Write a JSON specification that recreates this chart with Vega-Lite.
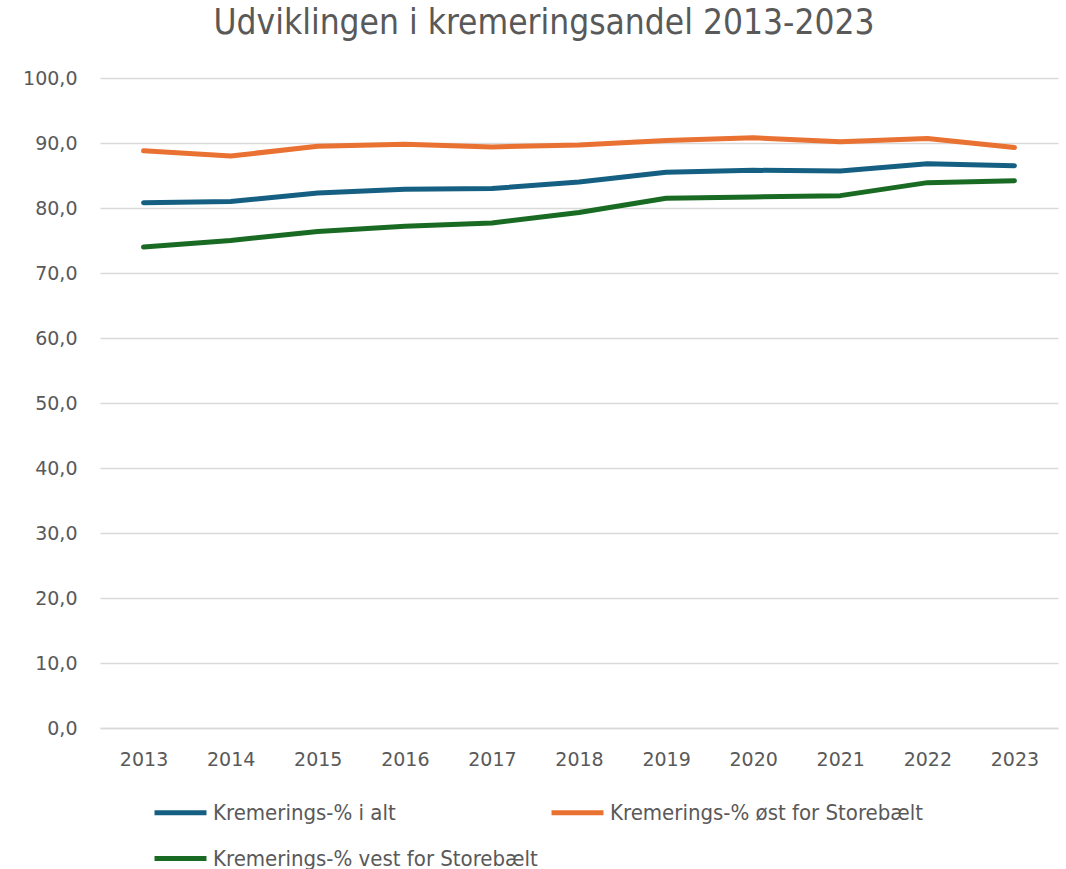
{
  "$schema": "https://vega.github.io/schema/vega-lite/v6.json",
  "width": 958,
  "height": 650,
  "autosize": {"type": "none"},
  "padding": {"left": 100, "top": 78, "right": 8, "bottom": 141},
  "background": "white",
  "title": {
    "text": "Udviklingen i kremeringsandel 2013-2023",
    "font": "DejaVu Sans Condensed, Liberation Sans",
    "fontSize": 35,
    "fontWeight": "normal",
    "color": "#595959",
    "anchor": "middle",
    "dx": -35,
    "offset": 28
  },
  "data": {
    "values": [
      {"year": "2013", "serie": "Kremerings-% i alt", "value": 80.8},
      {"year": "2014", "serie": "Kremerings-% i alt", "value": 81.0},
      {"year": "2015", "serie": "Kremerings-% i alt", "value": 82.3},
      {"year": "2016", "serie": "Kremerings-% i alt", "value": 82.9},
      {"year": "2017", "serie": "Kremerings-% i alt", "value": 83.0},
      {"year": "2018", "serie": "Kremerings-% i alt", "value": 84.0},
      {"year": "2019", "serie": "Kremerings-% i alt", "value": 85.5},
      {"year": "2020", "serie": "Kremerings-% i alt", "value": 85.8},
      {"year": "2021", "serie": "Kremerings-% i alt", "value": 85.7},
      {"year": "2022", "serie": "Kremerings-% i alt", "value": 86.8},
      {"year": "2023", "serie": "Kremerings-% i alt", "value": 86.5},
      {"year": "2013", "serie": "Kremerings-% øst for Storebælt", "value": 88.8},
      {"year": "2014", "serie": "Kremerings-% øst for Storebælt", "value": 88.0},
      {"year": "2015", "serie": "Kremerings-% øst for Storebælt", "value": 89.5},
      {"year": "2016", "serie": "Kremerings-% øst for Storebælt", "value": 89.8},
      {"year": "2017", "serie": "Kremerings-% øst for Storebælt", "value": 89.4},
      {"year": "2018", "serie": "Kremerings-% øst for Storebælt", "value": 89.7},
      {"year": "2019", "serie": "Kremerings-% øst for Storebælt", "value": 90.4},
      {"year": "2020", "serie": "Kremerings-% øst for Storebælt", "value": 90.8},
      {"year": "2021", "serie": "Kremerings-% øst for Storebælt", "value": 90.2},
      {"year": "2022", "serie": "Kremerings-% øst for Storebælt", "value": 90.7},
      {"year": "2023", "serie": "Kremerings-% øst for Storebælt", "value": 89.3},
      {"year": "2013", "serie": "Kremerings-% vest for Storebælt", "value": 74.0},
      {"year": "2014", "serie": "Kremerings-% vest for Storebælt", "value": 75.0},
      {"year": "2015", "serie": "Kremerings-% vest for Storebælt", "value": 76.4},
      {"year": "2016", "serie": "Kremerings-% vest for Storebælt", "value": 77.2},
      {"year": "2017", "serie": "Kremerings-% vest for Storebælt", "value": 77.7},
      {"year": "2018", "serie": "Kremerings-% vest for Storebælt", "value": 79.3},
      {"year": "2019", "serie": "Kremerings-% vest for Storebælt", "value": 81.5},
      {"year": "2020", "serie": "Kremerings-% vest for Storebælt", "value": 81.7},
      {"year": "2021", "serie": "Kremerings-% vest for Storebælt", "value": 81.9},
      {"year": "2022", "serie": "Kremerings-% vest for Storebælt", "value": 83.9},
      {"year": "2023", "serie": "Kremerings-% vest for Storebælt", "value": 84.2}
    ]
  },
  "mark": {"type": "line", "strokeWidth": 5, "strokeCap": "round", "strokeJoin": "round"},
  "encoding": {
    "x": {
      "field": "year",
      "type": "ordinal",
      "scale": {"type": "point", "padding": 0.5},
      "axis": {
        "title": null,
        "labelAngle": 0,
        "labelFont": "DejaVu Sans, Liberation Sans",
        "labelFontSize": 19,
        "labelColor": "#595959",
        "labelPadding": 22,
        "ticks": false,
        "domainColor": "#d9d9d9",
        "domainWidth": 1.3,
        "grid": false
      }
    },
    "y": {
      "field": "value",
      "type": "quantitative",
      "scale": {"domain": [0, 100], "nice": false},
      "axis": {
        "title": null,
        "values": [0, 10, 20, 30, 40, 50, 60, 70, 80, 90, 100],
        "labelExpr": "replace(format(datum.value, '.1f'), '.', ',')",
        "labelFont": "DejaVu Sans, Liberation Sans",
        "labelFontSize": 19,
        "labelColor": "#595959",
        "labelPadding": 23,
        "ticks": false,
        "domain": false,
        "gridColor": "#d9d9d9",
        "gridWidth": 1.3
      }
    },
    "color": {
      "field": "serie",
      "type": "nominal",
      "scale": {
        "domain": ["Kremerings-% i alt", "Kremerings-% øst for Storebælt", "Kremerings-% vest for Storebælt"],
        "range": ["#156082", "#E97132", "#196B24"]
      },
      "legend": {
        "title": null,
        "orient": "none",
        "direction": "horizontal",
        "legendX": 52,
        "legendY": 706,
        "columns": 2,
        "columnPadding": 3,
        "rowPadding": 6,
        "symbolType": "stroke",
        "symbolSize": 2700,
        "symbolStrokeWidth": 5,
        "labelOffset": 4,
        "labelFont": "DejaVu Sans Condensed, Liberation Sans",
        "labelFontSize": 22,
        "labelColor": "#595959",
        "labelLimit": 500
      }
    }
  },
  "config": {"view": {"stroke": null}}
}
